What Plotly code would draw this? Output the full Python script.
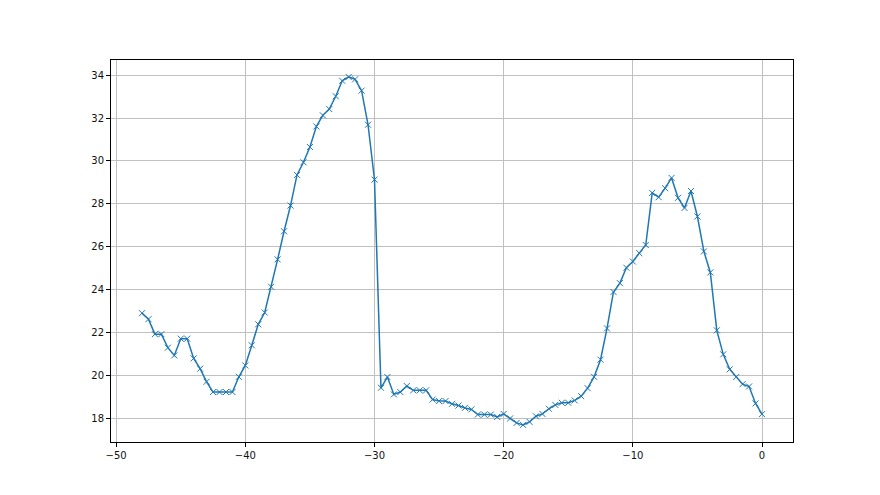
import plotly.graph_objects as go

x_vals = [-48.0, -47.5, -47.0, -46.5, -46.0, -45.5, -45.0, -44.5, -44.0, -43.5,
          -43.0, -42.5, -42.0, -41.5, -41.0, -40.5, -40.0, -39.5, -39.0, -38.5,
          -38.0, -37.5, -37.0, -36.5, -36.0, -35.5, -35.0, -34.5, -34.0, -33.5,
          -33.0, -32.5, -32.0, -31.5, -31.0, -30.5, -30.0, -29.5, -29.0, -28.5,
          -28.0, -27.5, -27.0, -26.5, -26.0, -25.5, -25.0, -24.5, -24.0, -23.5,
          -23.0, -22.5, -22.0, -21.5, -21.0, -20.5, -20.0, -19.5, -19.0, -18.5,
          -18.0, -17.5, -17.0, -16.5, -16.0, -15.5, -15.0, -14.5, -14.0, -13.5,
          -13.0, -12.5, -12.0, -11.5, -11.0, -10.5, -10.0, -9.5, -9.0, -8.5,
          -8.0, -7.5, -7.0, -6.5, -6.0, -5.5, -5.0, -4.5, -4.0, -3.5,
          -3.0, -2.5, -2.0, -1.5, -1.0, -0.5, 0.0]

y_vals = [22.9, 22.62, 21.92, 21.92, 21.29, 20.93, 21.71, 21.71, 20.79, 20.31,
          19.70, 19.22, 19.22, 19.22, 19.22, 19.93, 20.46,
          21.4, 22.38, 22.93, 24.13, 25.41, 26.72, 27.92, 29.35, 29.94, 30.65,
          31.61, 32.13, 32.42, 33.02, 33.74, 33.92, 33.81, 33.28, 31.69, 29.13,
          19.42, 19.92, 19.11, 19.22, 19.50, 19.30, 19.30, 19.30, 18.87, 18.80,
          18.80, 18.67, 18.59, 18.48, 18.41, 18.17, 18.17, 18.17, 18.06, 18.20,
          17.99, 17.78, 17.69, 17.83, 18.09, 18.20, 18.44, 18.62, 18.72, 18.72,
          18.83, 19.03, 19.40, 19.93, 20.73, 22.19, 23.89, 24.30, 25.02, 25.31,
          25.70, 26.08, 28.51, 28.31, 28.73, 29.21, 28.28, 27.81, 28.60, 27.41,
          25.78, 24.80, 22.10, 20.98, 20.28, 19.92, 19.59, 19.48, 18.69, 18.19]

x_ticks = [-50, -40, -30, -20, -10, 0]
y_ticks = [18, 20, 22, 24, 26, 28, 30, 32, 34]

fig = go.Figure()
fig.add_trace(go.Scatter(
    x=x_vals, y=y_vals, mode="lines+markers",
    line=dict(color="#1f77b4", width=1.5),
    marker=dict(symbol="x-thin", size=6, color="#1f77b4",
                line=dict(color="#1f77b4", width=1)),
    showlegend=False,
))

axis_common = dict(
    showline=True, linecolor="black", linewidth=1, mirror=True,
    ticks="outside", ticklen=4, tickwidth=1, tickcolor="black",
    showgrid=True, gridcolor="#c0c0c0", gridwidth=1,
    zeroline=False, tickfont=dict(family="DejaVu Sans", size=10, color="#111111"),
)

fig.update_layout(
    width=880, height=495,
    margin=dict(l=103, r=95, t=52, b=61),
    paper_bgcolor="white", plot_bgcolor="white",
    xaxis=dict(range=[-50.4, 2.4], tickvals=x_ticks,
               ticktext=["\u221250", "\u221240", "\u221230", "\u221220", "\u221210", "0"],
               **axis_common),
    yaxis=dict(range=[16.89, 34.71], tickvals=y_ticks, **axis_common),
)

fig.write_html("out.html")
